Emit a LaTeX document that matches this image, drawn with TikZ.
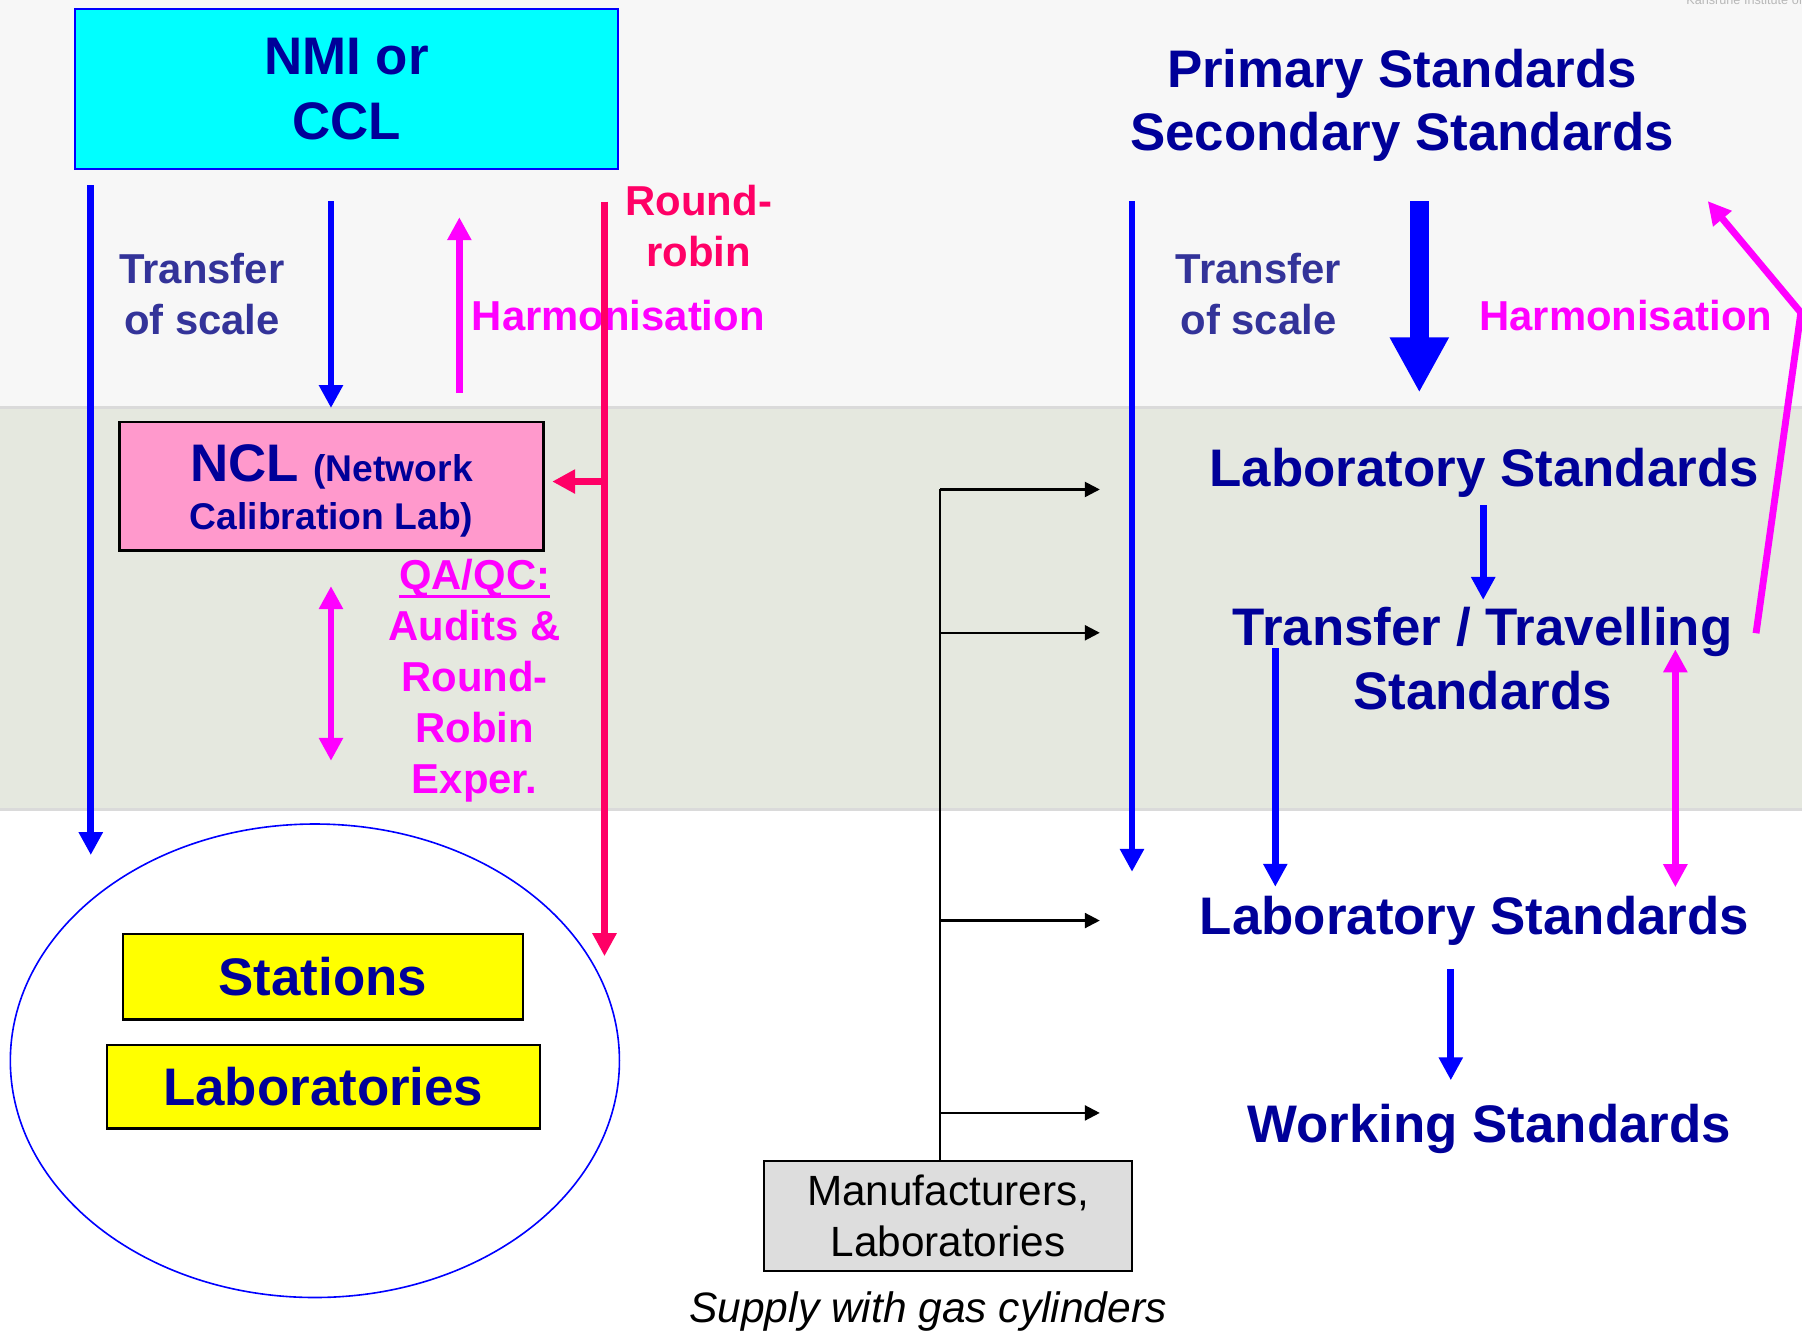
\documentclass[tikz,border=0pt]{standalone}
\usepackage{fontspec}
\setmainfont{Liberation Sans}
\usetikzlibrary{arrows.meta,shapes.geometric}
\definecolor{navy}{HTML}{000099}
\definecolor{slate}{HTML}{333399}
\definecolor{mag}{HTML}{FF00FF}
\definecolor{crim}{HTML}{FF0066}
\definecolor{blu}{HTML}{0000FF}
\definecolor{topbg}{HTML}{F7F7F7}
\definecolor{midbg}{HTML}{E5E8DF}
\definecolor{sepc}{HTML}{DADADA}
\definecolor{cyanf}{HTML}{00FFFF}
\definecolor{pinkf}{HTML}{FF99CC}
\definecolor{yel}{HTML}{FFFF00}
\definecolor{grayf}{HTML}{DDDDDD}
\newsavebox\qabox
\newcommand\ulqa[1]{\sbox\qabox{#1}\rlap{\rule[-3.9pt]{\wd\qabox}{1.2pt}}\usebox\qabox}
\begin{document}
\begin{tikzpicture}[x=0.5pt,y=-0.5pt,
  bigtxt/.style={font=\bfseries\fontsize{23}{27.5}\selectfont, text=navy, align=center, inner sep=0pt},
  midtxt/.style={font=\bfseries\fontsize{18.2}{22.2}\selectfont, align=center, inner sep=0pt},
  stdbox/.style={draw=black, line width=1pt, inner sep=0pt, align=center},
  arrowblue/.style={draw=blu, line width=3pt, -{Triangle[length=10pt,width=10pt]}},
  arrowmag/.style={draw=mag, line width=3pt, -{Triangle[length=10pt,width=10pt]}},
  dblmag/.style={draw=mag, line width=3pt, {Triangle[length=10pt,width=10pt]}-{Triangle[length=10pt,width=10pt]}},
  arrowred/.style={draw=crim, line width=3pt, -{Triangle[length=10pt,width=10pt]}},
  blkarrow/.style={draw=black, line width=1pt, -{Triangle[length=6.5pt,width=6.5pt]}},
  blkline/.style={draw=black, line width=1pt}]
\clip (0,0) rectangle (1568,1158);
% backgrounds
\fill[white] (0,0) rectangle (1568,1158);
\fill[topbg] (0,0) rectangle (1568,355);
\fill[midbg] (0,355) rectangle (1568,704);
\draw[sepc, line width=1.3pt] (0,355) -- (1568,355);
\draw[sepc, line width=1.3pt] (0,704) -- (1568,704);
\node[anchor=base west, inner sep=0pt, font=\fontsize{5.5}{6}\selectfont, text=black!28] (kit) at (1467,3.5) {Karlsruhe Institute of};

% ---------------- left column ----------------
\node[stdbox, draw=blu, fill=cyanf, minimum width=236.5pt, minimum height=69.5pt,
      bigtxt, font=\bfseries\fontsize{23}{28}\selectfont] (nmi) at (301.5,77.5) {NMI or\\CCL};

\node[stdbox, fill=pinkf, minimum width=184.5pt, minimum height=56pt] (ncl) at (288.5,423) {};
\node[text=navy, align=center, inner sep=0pt, font=\bfseries\fontsize{16.2}{21}\selectfont]
      (ncltxt) at (288.5,427) {{\fontsize{23}{21}\selectfont NCL }(Network\\Calibration Lab)};

\node[draw=blu, line width=0.7pt, ellipse, minimum width=265pt, minimum height=206pt, inner sep=0pt] (grp) at (274,923) {};
\node[stdbox, fill=yel, minimum width=174pt, minimum height=37pt, bigtxt] (stations) at (281,850) {Stations};
\node[stdbox, fill=yel, minimum width=188.5pt, minimum height=36.5pt, bigtxt] (labs) at (281.3,945.5) {Laboratories};

\node[midtxt, text=slate] (tos1) at (175.7,256) {Transfer\\of scale};
\node[midtxt, text=mag, anchor=base] (harm1) at (538,288) {Harmonisation};
\node[midtxt, text=crim] (rr) at (608,196.5) {Round-\\robin};
\node[midtxt, text=mag] (qa) at (413,592) {\ulqa{QA/QC:}\\Audits \&\\Round-\\Robin\\Exper.};

\coordinate (a1s) at (79,161);    \coordinate (a1e) at (79,744);
\coordinate (a2s) at (288,175);   \coordinate (a2e) at (288,355);
\coordinate (a3s) at (399.7,342); \coordinate (a3e) at (399.7,189);
\coordinate (a4s) at (288,510);   \coordinate (a4e) at (288,662);
\coordinate (rs) at (526,175.5);  \coordinate (re) at (526,832);
\coordinate (rb) at (526,419);    \coordinate (rbe) at (480.5,419);
\draw[arrowblue] (a1s) -- (a1e);
\draw[arrowblue] (a2s) -- (a2e);
\draw[arrowmag] (a3s) -- (a3e);
\draw[dblmag] (a4s) -- (a4e);
\draw[arrowred] (rs) -- (re);
\draw[arrowred] (rb) -- (rbe);

% ---------------- right column ----------------
\node[bigtxt] (prim) at (1220,91.8) {Primary Standards\\Secondary Standards};
\node[midtxt, text=slate] (tos2) at (1095,256) {Transfer\\of scale};
\node[midtxt, text=mag, anchor=base] (harm2) at (1414.6,288) {Harmonisation};
\node[bigtxt, anchor=base] (lab1) at (1291.5,423) {Laboratory Standards};
\node[bigtxt] (trav) at (1290,573) {Transfer / Travelling\\Standards};
\node[bigtxt, anchor=base] (lab2) at (1283,813) {Laboratory Standards};
\node[bigtxt, anchor=base] (work) at (1296,994) {Working Standards};

\coordinate (b1s) at (985,175);     \coordinate (b1e) at (985,758.6);
\coordinate (b2s) at (1235,175);    \coordinate (b2e) at (1235,341.6);
\coordinate (b3s) at (1290.6,439.5);\coordinate (b3e) at (1290.6,522);
\coordinate (b4s) at (1109.7,564);  \coordinate (b4e) at (1109.7,771.6);
\coordinate (b5s) at (1457.8,565);  \coordinate (b5e) at (1457.8,772);
\coordinate (b6s) at (1262.4,843);  \coordinate (b6e) at (1262.4,940);
\coordinate (hs) at (1528,551); \coordinate (hc) at (1567,272); \coordinate (he) at (1486,175);
\draw[arrowblue] (b1s) -- (b1e);
\draw[draw=blu, line width=8.25pt, -{Triangle[length=24pt,width=24pt]}] (b2s) -- (b2e);
\draw[arrowblue] (b3s) -- (b3e);
\draw[arrowblue] (b4s) -- (b4e);
\draw[dblmag] (b5s) -- (b5e);
\draw[arrowblue] (b6s) -- (b6e);
\draw[arrowmag, line join=miter] (hs) -- (hc) -- (he);

% ---------------- supply tree ----------------
\node[stdbox, fill=grayf, minimum width=160pt, minimum height=48pt,
      font=\fontsize{18.4}{22}\selectfont] (manu) at (825,1058) {Manufacturers,\\Laboratories};
\node[anchor=base, inner sep=0pt, font=\itshape\fontsize{18.5}{22}\selectfont] (supply) at (807.5,1151) {Supply with gas cylinders};
\coordinate (t1) at (818,425.9); \coordinate (e1) at (957,425.9);
\coordinate (t2) at (818,550.6); \coordinate (e2) at (957,550.6);
\coordinate (t3) at (818,801);   \coordinate (e3) at (957,801);
\coordinate (t4) at (818,968.4); \coordinate (e4) at (957,968.4);
\draw[blkline] (t1) -- (manu.north -| t1);
\draw[blkarrow] (t1) -- (e1);
\draw[blkarrow] (t2) -- (e2);
\draw[blkarrow] (t3) -- (e3);
\draw[blkarrow] (t4) -- (e4);
\end{tikzpicture}
\end{document}
